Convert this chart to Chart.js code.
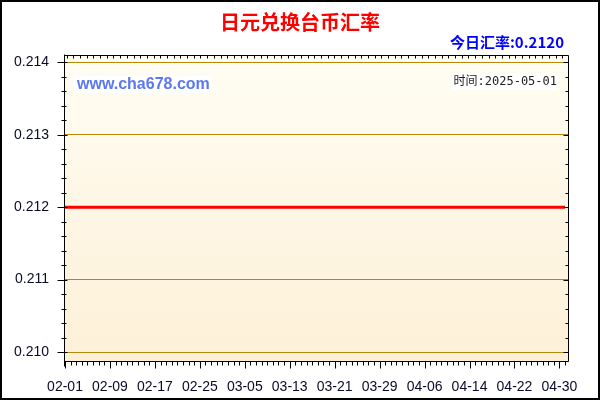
<!DOCTYPE html>
<html><head><meta charset="utf-8">
<script src="https://cdn.jsdelivr.net/npm/chart.js@4.4.0/dist/chart.umd.min.js"></script>
<style>html,body{margin:0;padding:0;background:#fff}#wrap{width:600px;height:400px;position:relative}</style>
</head><body><div id="wrap"><canvas id="c" width="600" height="400"></canvas></div>
<script>
const dates = [
 '02-01','02-02','02-03','02-04','02-05','02-06','02-07','02-08','02-09','02-10',
 '02-11','02-12','02-13','02-14','02-15','02-16','02-17','02-18','02-19','02-20',
 '02-21','02-22','02-23','02-24','02-25','02-26','02-27','02-28',
 '03-01','03-02','03-03','03-04','03-05','03-06','03-07','03-08','03-09','03-10',
 '03-11','03-12','03-13','03-14','03-15','03-16','03-17','03-18','03-19','03-20',
 '03-21','03-22','03-23','03-24','03-25','03-26','03-27','03-28','03-29','03-30','03-31',
 '04-01','04-02','04-03','04-04','04-05','04-06','04-07','04-08','04-09','04-10',
 '04-11','04-12','04-13','04-14','04-15','04-16','04-17','04-18','04-19','04-20',
 '04-21','04-22','04-23','04-24','04-25','04-26','04-27','04-28','04-29','04-30',
 '05-01'
];
const rates = [
 0.2120,0.2120,0.2120,0.2120,0.2120,0.2120,0.2120,0.2120,0.2120,0.2120,
 0.2120,0.2120,0.2120,0.2120,0.2120,0.2120,0.2120,0.2120,0.2120,0.2120,
 0.2120,0.2120,0.2120,0.2120,0.2120,0.2120,0.2120,0.2120,
 0.2120,0.2120,0.2120,0.2120,0.2120,0.2120,0.2120,0.2120,0.2120,0.2120,
 0.2120,0.2120,0.2120,0.2120,0.2120,0.2120,0.2120,0.2120,0.2120,0.2120,
 0.2120,0.2120,0.2120,0.2120,0.2120,0.2120,0.2120,0.2120,0.2120,0.2120,0.2120,
 0.2120,0.2120,0.2120,0.2120,0.2120,0.2120,0.2120,0.2120,0.2120,0.2120,
 0.2120,0.2120,0.2120,0.2120,0.2120,0.2120,0.2120,0.2120,0.2120,0.2120,
 0.2120,0.2120,0.2120,0.2120,0.2120,0.2120,0.2120,0.2120,0.2120,0.2120,
 0.2120
];
const yTickValues = [0.210, 0.211, 0.212, 0.213, 0.214];
const xLabelCount = 12;
const xLabelEvery = 8;
const titleText = '日元兑换台币汇率';
const todayText = '今日汇率:0.2120';
const siteText = 'www.cha678.com';
const timeText = '时间:2025-05-01';

const gold = '#b8860b';
const tickTextColor = '#0a0a2a';

const bgPlugin = {
  id: 'bg',
  beforeDraw(chart) {
    const ctx = chart.ctx, a = chart.chartArea;
    ctx.save();
    ctx.fillStyle = '#ffffff';
    ctx.fillRect(0, 0, chart.width, chart.height);
    const g = ctx.createLinearGradient(0, a.top, 0, a.bottom);
    g.addColorStop(0, '#fffdf3');
    g.addColorStop(1, '#fdf0d7');
    ctx.fillStyle = g;
    ctx.fillRect(a.left, a.top, a.right - a.left, a.bottom - a.top);
    ctx.restore();
  }
};

const decorPlugin = {
  id: 'decor',
  afterDraw(chart) {
    const ctx = chart.ctx, a = chart.chartArea;
    const xs = chart.scales.x, ys = chart.scales.y;
    const L = Math.floor(a.left) + 0.5, R = Math.floor(a.right) + 0.5;
    const T = Math.floor(a.top) + 0.5, B = Math.floor(a.bottom) + 0.5;
    ctx.save();
    ctx.strokeStyle = '#000';
    ctx.lineWidth = 1;
    ctx.beginPath();
    // box
    ctx.moveTo(L, T - 1); ctx.lineTo(L, B + 5);
    ctx.moveTo(L, B); ctx.lineTo(R, B);
    ctx.moveTo(L, T); ctx.lineTo(R, T);
    ctx.moveTo(R, T); ctx.lineTo(R, B);
    // x ticks (daily) on bottom axis
    for (let i = 0; i < dates.length; i++) {
      const px = Math.round(xs.getPixelForValue(i)) + 0.5;
      const major = i % xLabelEvery === 0 && i / xLabelEvery < xLabelCount;
      ctx.moveTo(px, B); ctx.lineTo(px, B + (major ? 7 : 4));
    }
    // top decorative ticks
    for (let px = L + 2; px < R - 1; px += 6.7) {
      const p = Math.round(px) + 0.5;
      ctx.moveTo(p, T); ctx.lineTo(p, T + 3);
    }
    // y ticks (every 0.0002)
    for (let v = 2100; v <= 2140; v += 2) {
      const py = Math.round(ys.getPixelForValue(v / 10000)) + 0.5;
      const major = v % 10 === 0;
      ctx.moveTo(L - (major ? 7 : 3), py); ctx.lineTo(L + (major ? 3 : 2), py);
      ctx.moveTo(R - (major ? 5 : 3), py); ctx.lineTo(R, py);
    }
    ctx.stroke();

    // outer border
    ctx.lineWidth = 2;
    ctx.strokeRect(1, 1, chart.width - 2, chart.height - 2);

    // title
    ctx.textBaseline = 'middle';
    ctx.textAlign = 'center';
    ctx.fillStyle = '#ff0000';
    ctx.font = "bold 20px 'Noto Sans CJK SC', sans-serif";
    ctx.fillText(titleText, 300, 22);

    // today rate
    ctx.textAlign = 'right';
    ctx.fillStyle = '#0000ff';
    ctx.font = "bold 15px 'Noto Sans CJK SC', sans-serif";
    ctx.fillText(todayText, 564, 42);

    // site text with white box
    ctx.font = "bold 16px 'Liberation Sans', Arial, sans-serif";
    ctx.textAlign = 'left';
    let w = ctx.measureText(siteText).width;
    ctx.fillStyle = '#ffffff';
    ctx.fillRect(74, 76, w + 5, 17);
    ctx.fillStyle = '#5b78f0';
    ctx.fillText(siteText, 77, 84.5);

    // time text with white box
    ctx.font = "12px 'DejaVu Sans Mono', 'Noto Sans CJK SC', monospace";
    ctx.textAlign = 'right';
    w = ctx.measureText(timeText).width;
    ctx.fillStyle = '#ffffff';
    ctx.fillRect(557 - w - 2, 73, w + 3, 17);
    ctx.fillStyle = '#222222';
    ctx.fillText(timeText, 557, 81.5);
    ctx.restore();
  }
};

new Chart(document.getElementById('c'), {
  type: 'line',
  data: {
    datasets: [{
      data: rates.map((r, i) => ({ x: i, y: r })),
      borderColor: '#ff0000',
      borderWidth: 3,
      pointRadius: 0,
      tension: 0,
      fill: false
    }]
  },
  options: {
    responsive: false,
    animation: false,
    devicePixelRatio: 1,
    layout: { padding: { left: 0, top: 55, right: 32, bottom: 0 } },
    plugins: { legend: { display: false }, tooltip: { enabled: false }, title: { display: false } },
    scales: {
      x: {
        type: 'linear',
        min: -0.18,
        max: 89.53,
        afterBuildTicks(scale) {
          const t = [];
          for (let k = 0; k < xLabelCount; k++) t.push({ value: k * xLabelEvery });
          scale.ticks = t;
        },
        afterFit(scale) { scale.height = 39; },
        grid: { display: false },
        border: { display: false },
        ticks: {
          autoSkip: false,
          maxRotation: 0,
          padding: 10,
          color: tickTextColor,
          font: { family: "'Liberation Sans', Arial, sans-serif", size: 14 },
          callback: (v) => dates[v]
        }
      },
      y: {
        type: 'linear',
        min: 0.2098757,
        max: 0.2141036,
        afterBuildTicks(scale) { scale.ticks = yTickValues.map(v => ({ value: v })); },
        afterFit(scale) { scale.width = 64; },
        grid: { color: gold, lineWidth: 1, drawTicks: false },
        border: { display: false },
        ticks: {
          padding: 15,
          color: tickTextColor,
          font: { family: "'Liberation Sans', Arial, sans-serif", size: 14 },
          callback: (v) => Number(v).toFixed(3)
        }
      }
    }
  },
  plugins: [bgPlugin, decorPlugin]
});
</script>
</body></html>
